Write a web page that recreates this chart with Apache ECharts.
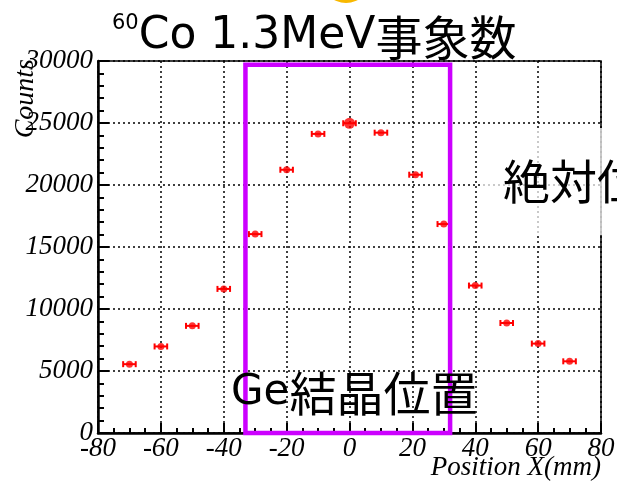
<!DOCTYPE html>
<html><head><meta charset="utf-8">
<script src="https://cdn.jsdelivr.net/npm/echarts@6/dist/echarts.min.js"></script>
<style>html,body{margin:0;padding:0;background:#fff}#c{width:617px;height:483px}</style>
</head><body><div id="c"></div>
<script>
// ---- data ----
const positions = [-70, -60, -50, -40, -30, -20, -10, 0, 10, 21, 30, 40, 50, 60, 70];
const counts    = [5550, 6980, 8640, 11620, 16040, 21230, 24120, 24980, 24220, 20830, 16850, 11890, 8870, 7210, 5780];
const xErrors   = [2, 2, 2, 2, 2, 2, 2, 2, 2, 2, 2, 2, 2, 2, 2];
const xRange = [-80, 80];
const yRange = [0, 30000];
const geBoxX = [-33.1, 32.0];
const geBoxY = [0, 29700];
const titleText = ['60', 'Co 1.3MeV', '事象数'];
const geLabel = ['Ge', '結晶位置'];
const sideLabel = '絶対位';
const xName = 'Position X(mm)';
const yName = 'Counts';

const points = positions.map((x, i) => [x, counts[i], xErrors[i]]);

const chart = echarts.init(document.getElementById('c'), null, {renderer: 'canvas'});
const tickFont = {fontFamily: 'Liberation Serif', fontStyle: 'italic', fontSize: 27, color: '#000'};
const red = '#ff0000';
const plain = v => String(v);

chart.setOption({
  animation: false,
  backgroundColor: '#fff',
  title: {
    left: 107, top: 8,
    text: '{sup|' + titleText[0] + '}{lat|' + titleText[1] + '}{cjk|' + titleText[2] + '}',
    textStyle: {
      fontWeight: 'normal',
      rich: {
        sup: {fontFamily: 'DejaVu Sans', fontSize: 21, fontWeight: 'normal', color: '#000', verticalAlign: 'top', lineHeight: 48},
        lat: {fontFamily: 'DejaVu Sans', fontSize: 44, fontWeight: 'normal', color: '#000', lineHeight: 48},
        cjk: {fontFamily: 'Noto Sans CJK JP', fontSize: 47, fontWeight: 'normal', color: '#000', lineHeight: 48}
      }
    }
  },
  grid: {left: 98, right: 16, top: 61, bottom: 50, containLabel: false, outerBoundsMode: 'none',
    show: true, borderColor: '#000', borderWidth: 1.5, backgroundColor: 'transparent'},
  xAxis: {
    type: 'value', min: xRange[0], max: xRange[1], interval: 20,
    axisLine: {show: true, onZero: false, lineStyle: {color: '#000', width: 2.5}},
    axisTick: {show: true, inside: true, length: 10, lineStyle: {color: '#000', width: 2}},
    minorTick: {show: true, splitNumber: 4, length: 5, lineStyle: {color: '#000', width: 2}},
    axisLabel: Object.assign({margin: 2, formatter: plain}, tickFont),
    splitLine: {show: true, lineStyle: {color: '#000', type: [2, 3], width: 1.5}}
  },
  yAxis: {
    type: 'value', min: yRange[0], max: yRange[1], interval: 5000,
    axisLine: {show: true, onZero: false, lineStyle: {color: '#000', width: 2.5}},
    axisTick: {show: true, inside: true, length: 11, lineStyle: {color: '#000', width: 2}},
    minorTick: {show: true, splitNumber: 5, length: 6, lineStyle: {color: '#000', width: 2}},
    axisLabel: Object.assign({margin: 5, formatter: plain}, tickFont),
    splitLine: {show: true, lineStyle: {color: '#000', type: [2, 3], width: 1.5}}
  },
  series: [
    {
      type: 'custom', name: 'errors', clip: false, z: 3,
      data: points,
      encode: {x: 0, y: 1},
      renderItem: function (params, api) {
        const x = api.value(0), y = api.value(1), e = api.value(2);
        const a = api.coord([x - e, y]), b = api.coord([x + e, y]);
        const st = {stroke: red, lineWidth: 2};
        return {type: 'group', children: [
          {type: 'line', shape: {x1: a[0], y1: a[1], x2: b[0], y2: b[1]}, style: st},
          {type: 'line', shape: {x1: a[0], y1: a[1] - 3, x2: a[0], y2: a[1] + 3}, style: st},
          {type: 'line', shape: {x1: b[0], y1: b[1] - 3, x2: b[0], y2: b[1] + 3}, style: st}
        ]};
      }
    },
    {
      type: 'scatter', name: 'counts', z: 4,
      data: points.map(p => [p[0], p[1]]),
      symbol: 'circle',
      symbolSize: function (v) { return v[0] === 0 ? 11 : 7; },
      itemStyle: {color: red}
    },
    {
      type: 'custom', name: 'Ge box', clip: false, z: 5,
      data: [[geBoxX[0], geBoxY[0], geBoxX[1], geBoxY[1]]],
      encode: {x: [0, 2], y: [1, 3]},
      renderItem: function (params, api) {
        const p0 = api.coord([api.value(0), api.value(3)]);
        const p1 = api.coord([api.value(2), api.value(1)]);
        return {type: 'rect', shape: {x: p0[0], y: p0[1], width: p1[0] - p0[0], height: p1[1] - p0[1]},
          style: {fill: 'none', stroke: '#cc00ff', lineWidth: 4.5}};
      }
    }
  ],
  graphic: [
    {type: 'circle', z: 100, shape: {cx: 346, cy: -22, r: 25}, style: {fill: '#f8b800'}},
    {type: 'text', z: 100, x: 26, y: 59, rotation: Math.PI / 2,
      style: {text: yName, align: 'right', verticalAlign: 'middle', font: 'italic 28px "Liberation Serif"', fill: '#000'}},
    {type: 'text', z: 100, x: 601, y: 468,
      style: {text: xName, align: 'right', verticalAlign: 'middle', font: 'italic 27px "Liberation Serif"', fill: '#000'}},
    {type: 'rect', z: 100, shape: {x: 482, y: 128, width: 140, height: 107}, style: {fill: 'rgba(255,255,255,0.72)'}},
    {type: 'text', z: 101, x: 503, y: 181,
      style: {text: sideLabel, align: 'left', verticalAlign: 'middle', font: '47px "Noto Sans CJK JP"', fill: '#000'}},
    {type: 'text', z: 101, x: 231, y: 393,
      style: {text: '{a|' + geLabel[0] + '}{b|' + geLabel[1] + '}', align: 'left', verticalAlign: 'middle',
        rich: {
          a: {fontFamily: 'DejaVu Sans', fontSize: 42, fill: '#000', lineHeight: 50},
          b: {fontFamily: 'Noto Sans CJK JP', fontSize: 47, fill: '#000', lineHeight: 50}
        }}}
  ]
});
</script>
</body></html>
